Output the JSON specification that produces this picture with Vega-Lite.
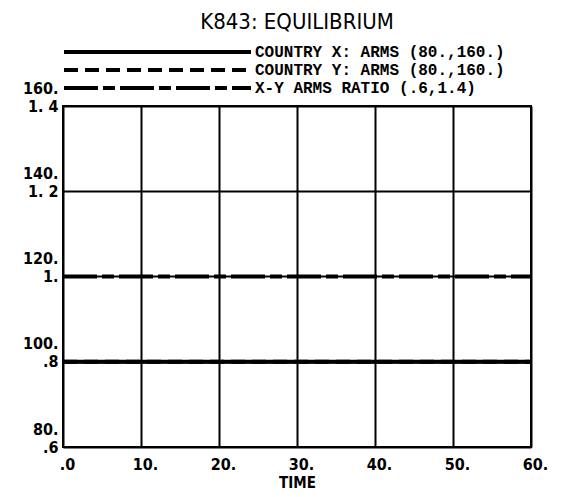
{
  "$schema": "https://vega.github.io/schema/vega-lite/v6.json",
  "width": 468,
  "height": 341,
  "autosize": {"type": "none"},
  "padding": {"left": 63, "top": 106, "right": 31, "bottom": 50},
  "background": "white",
  "title": {
    "text": "K843: EQUILIBRIUM",
    "font": "DejaVu Sans Condensed",
    "fontSize": 22,
    "fontWeight": "normal",
    "color": "black",
    "anchor": "middle",
    "offset": 10,
    "frame": "group"
  },
  "config": {
    "view": {"stroke": "black", "strokeWidth": 2},
    "axis": {
      "labelFont": "DejaVu Sans Condensed",
      "labelFontWeight": "bold",
      "labelFontSize": 16,
      "labelColor": "black",
      "titleFont": "DejaVu Sans Condensed",
      "titleFontWeight": "bold",
      "titleFontSize": 15,
      "titleColor": "black",
      "grid": true,
      "gridColor": "black",
      "gridWidth": 2,
      "gridOpacity": 1,
      "domain": false,
      "ticks": false
    }
  },
  "data": {
    "values": [
      {"series": "COUNTRY X: ARMS (80.,160.)", "kind": "arms", "time": 0, "value": 100},
      {"series": "COUNTRY X: ARMS (80.,160.)", "kind": "arms", "time": 10, "value": 100},
      {"series": "COUNTRY X: ARMS (80.,160.)", "kind": "arms", "time": 20, "value": 100},
      {"series": "COUNTRY X: ARMS (80.,160.)", "kind": "arms", "time": 30, "value": 100},
      {"series": "COUNTRY X: ARMS (80.,160.)", "kind": "arms", "time": 40, "value": 100},
      {"series": "COUNTRY X: ARMS (80.,160.)", "kind": "arms", "time": 50, "value": 100},
      {"series": "COUNTRY X: ARMS (80.,160.)", "kind": "arms", "time": 60, "value": 100},
      {"series": "COUNTRY Y: ARMS (80.,160.)", "kind": "arms", "time": 0, "value": 100},
      {"series": "COUNTRY Y: ARMS (80.,160.)", "kind": "arms", "time": 10, "value": 100},
      {"series": "COUNTRY Y: ARMS (80.,160.)", "kind": "arms", "time": 20, "value": 100},
      {"series": "COUNTRY Y: ARMS (80.,160.)", "kind": "arms", "time": 30, "value": 100},
      {"series": "COUNTRY Y: ARMS (80.,160.)", "kind": "arms", "time": 40, "value": 100},
      {"series": "COUNTRY Y: ARMS (80.,160.)", "kind": "arms", "time": 50, "value": 100},
      {"series": "COUNTRY Y: ARMS (80.,160.)", "kind": "arms", "time": 60, "value": 100},
      {"series": "X-Y ARMS RATIO (.6,1.4)", "kind": "ratio", "time": 0, "value": 1.0},
      {"series": "X-Y ARMS RATIO (.6,1.4)", "kind": "ratio", "time": 10, "value": 1.0},
      {"series": "X-Y ARMS RATIO (.6,1.4)", "kind": "ratio", "time": 20, "value": 1.0},
      {"series": "X-Y ARMS RATIO (.6,1.4)", "kind": "ratio", "time": 30, "value": 1.0},
      {"series": "X-Y ARMS RATIO (.6,1.4)", "kind": "ratio", "time": 40, "value": 1.0},
      {"series": "X-Y ARMS RATIO (.6,1.4)", "kind": "ratio", "time": 50, "value": 1.0},
      {"series": "X-Y ARMS RATIO (.6,1.4)", "kind": "ratio", "time": 60, "value": 1.0}
    ]
  },
  "layer": [
    {
      "transform": [{"filter": "datum.kind === 'ratio'"}],
      "mark": {"type": "line", "color": "black", "strokeWidth": 4},
      "encoding": {
        "x": {
          "field": "time", "type": "quantitative",
          "scale": {"domain": [0, 60], "nice": false},
          "axis": {"values": [0, 10, 20, 30, 40, 50, 60], "labelExpr": "datum.value == 0 ? '.0' : datum.value + '.'", "title": "TIME", "labelPadding": 9, "titlePadding": 3, "labelFlush": false, "labelOffset": 4}
        },
        "y": {
          "field": "value", "type": "quantitative",
          "scale": {"domain": [0.6, 1.4], "nice": false, "zero": false},
          "axis": {
            "values": [0.6, 0.8, 1.0, 1.2, 1.4],
            "labelExpr": "[format(80 + (datum.value - 0.6) * 100, 'd') + '.', datum.value < 0.99 ? '.' + format(datum.value * 10, 'd') : (datum.value < 1.01 ? '1.' : '1. ' + format((datum.value - 1) * 10, 'd'))]",
            "labelBaseline": "bottom",
            "labelOffset": -10,
            "labelLineHeight": 18,
            "labelPadding": 5,
            "labelFlush": false,
            "title": null
          }
        },
        "strokeDash": {
          "field": "series", "type": "nominal",
          "scale": {
            "domain": ["COUNTRY X: ARMS (80.,160.)", "COUNTRY Y: ARMS (80.,160.)", "X-Y ARMS RATIO (.6,1.4)"],
            "range": [[1, 0], [14, 7], [34, 5, 12, 5]]
          },
          "legend": {
            "orient": "none",
            "legendX": -7,
            "legendY": -62,
            "title": null,
            "symbolType": "M0,0H187",
            "symbolSize": 4,
            "symbolStrokeWidth": 4,
            "symbolStrokeColor": "black",
            "symbolFillColor": "transparent",
            "labelOffset": 183,
            "labelFont": "Liberation Mono",
            "labelFontWeight": "bold",
            "labelFontSize": 16,
            "labelColor": "black",
            "rowPadding": 2,
            "labelLimit": 400
          }
        }
      }
    },
    {
      "transform": [{"filter": "datum.kind === 'arms'"}],
      "mark": {"type": "line", "color": "black", "strokeWidth": 4},
      "encoding": {
        "x": {"field": "time", "type": "quantitative"},
        "y": {
          "field": "value", "type": "quantitative",
          "scale": {"domain": [80, 160], "nice": false, "zero": false},
          "axis": null
        },
        "strokeDash": {"field": "series", "type": "nominal"}
      }
    }
  ],
  "resolve": {"scale": {"y": "independent"}}
}
